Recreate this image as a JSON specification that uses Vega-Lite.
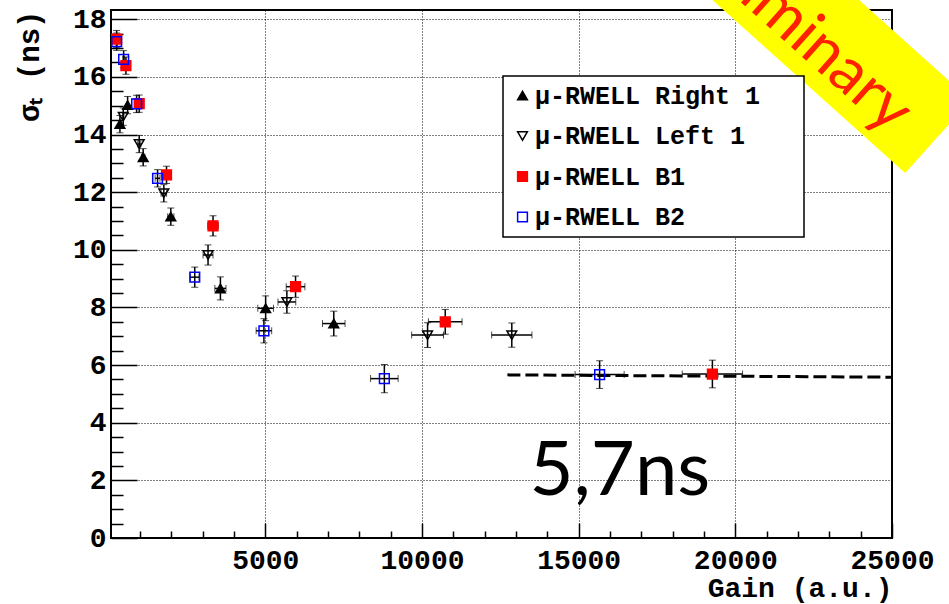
{
  "$schema": "https://vega.github.io/schema/vega-lite/v6.json",
  "width": 781,
  "height": 528,
  "autosize": {"type": "none"},
  "padding": {"left": 111, "top": 10, "right": 57, "bottom": 66},
  "background": "white",
  "config": {
    "view": {"stroke": "black", "strokeWidth": 2},
    "axis": {
      "labelFont": "Liberation Mono",
      "labelFontWeight": "bold",
      "labelFontSize": 28,
      "labelColor": "black",
      "titleFont": "Liberation Mono",
      "titleFontWeight": "bold",
      "titleColor": "black",
      "tickColor": "black",
      "tickWidth": 1.5,
      "domain": false
    },
    "legend": {
      "orient": "none",
      "legendX": 392,
      "legendY": 66,
      "padding": 7,
      "strokeColor": "black",
      "strokeWidth": 1.5,
      "fillColor": "white",
      "cornerRadius": 0,
      "labelFont": "Liberation Mono",
      "labelFontWeight": "bold",
      "labelFontSize": 25,
      "labelColor": "black",
      "labelLimit": 400,
      "labelOffset": 0,
      "rowPadding": 14.5,
      "symbolStrokeWidth": 1.5
    }
  },
  "datasets": {
    "timing": [
      {"series": "μ-RWELL Right 1", "gain": 360, "sigma": 14.36, "gainErr": 18, "sigmaErr": 0.3},
      {"series": "μ-RWELL Right 1", "gain": 605, "sigma": 15.02, "gainErr": 30, "sigmaErr": 0.3},
      {"series": "μ-RWELL Right 1", "gain": 1102, "sigma": 13.21, "gainErr": 55, "sigmaErr": 0.3},
      {"series": "μ-RWELL Right 1", "gain": 1984, "sigma": 11.15, "gainErr": 99, "sigmaErr": 0.3},
      {"series": "μ-RWELL Right 1", "gain": 3567, "sigma": 8.66, "gainErr": 178, "sigmaErr": 0.4},
      {"series": "μ-RWELL Right 1", "gain": 5010, "sigma": 7.97, "gainErr": 250, "sigmaErr": 0.43},
      {"series": "μ-RWELL Right 1", "gain": 7185, "sigma": 7.44, "gainErr": 360, "sigmaErr": 0.43},
      {"series": "μ-RWELL Left 1", "gain": 465, "sigma": 14.62, "gainErr": 23, "sigmaErr": 0.3},
      {"series": "μ-RWELL Left 1", "gain": 975, "sigma": 13.67, "gainErr": 49, "sigmaErr": 0.3},
      {"series": "μ-RWELL Left 1", "gain": 1761, "sigma": 11.96, "gainErr": 88, "sigmaErr": 0.3},
      {"series": "μ-RWELL Left 1", "gain": 3172, "sigma": 9.82, "gainErr": 159, "sigmaErr": 0.35},
      {"series": "μ-RWELL Left 1", "gain": 5688, "sigma": 8.19, "gainErr": 284, "sigmaErr": 0.39},
      {"series": "μ-RWELL Left 1", "gain": 10178, "sigma": 7.04, "gainErr": 509, "sigmaErr": 0.43},
      {"series": "μ-RWELL Left 1", "gain": 12866, "sigma": 7.04, "gainErr": 643, "sigmaErr": 0.42},
      {"series": "μ-RWELL B1", "gain": 255, "sigma": 17.31, "gainErr": 13, "sigmaErr": 0.3},
      {"series": "μ-RWELL B1", "gain": 551, "sigma": 16.39, "gainErr": 28, "sigmaErr": 0.3},
      {"series": "μ-RWELL B1", "gain": 975, "sigma": 15.07, "gainErr": 49, "sigmaErr": 0.3},
      {"series": "μ-RWELL B1", "gain": 1847, "sigma": 12.6, "gainErr": 92, "sigmaErr": 0.3},
      {"series": "μ-RWELL B1", "gain": 3331, "sigma": 10.83, "gainErr": 167, "sigmaErr": 0.35},
      {"series": "μ-RWELL B1", "gain": 5965, "sigma": 8.72, "gainErr": 298, "sigmaErr": 0.37},
      {"series": "μ-RWELL B1", "gain": 10742, "sigma": 7.5, "gainErr": 537, "sigmaErr": 0.43},
      {"series": "μ-RWELL B1", "gain": 19268, "sigma": 5.69, "gainErr": 963, "sigmaErr": 0.48},
      {"series": "μ-RWELL B2", "gain": 255, "sigma": 17.22, "gainErr": 13, "sigmaErr": 0.3},
      {"series": "μ-RWELL B2", "gain": 478, "sigma": 16.61, "gainErr": 24, "sigmaErr": 0.3},
      {"series": "μ-RWELL B2", "gain": 892, "sigma": 15.06, "gainErr": 45, "sigmaErr": 0.3},
      {"series": "μ-RWELL B2", "gain": 1561, "sigma": 12.48, "gainErr": 78, "sigmaErr": 0.3},
      {"series": "μ-RWELL B2", "gain": 2748, "sigma": 9.05, "gainErr": 137, "sigmaErr": 0.35},
      {"series": "μ-RWELL B2", "gain": 4955, "sigma": 7.19, "gainErr": 248, "sigmaErr": 0.42},
      {"series": "μ-RWELL B2", "gain": 8799, "sigma": 5.53, "gainErr": 440, "sigmaErr": 0.49},
      {"series": "μ-RWELL B2", "gain": 15669, "sigma": 5.67, "gainErr": 783, "sigmaErr": 0.48}
    ],
    "fit": [
      {"gain": 12726, "sigma": 5.66},
      {"gain": 25000, "sigma": 5.58}
    ],
    "single": [{}]
  },
  "layer": [
    {
      "description": "major ticks pointing into the frame",
      "data": {"name": "fit"},
      "mark": {"type": "point", "opacity": 0},
      "encoding": {
        "x": {"field": "gain", "type": "quantitative",
          "scale": {"domain": [75, 25000], "nice": false, "zero": false},
          "axis": {"orient": "bottom", "values": [5000, 10000, 15000, 20000, 25000], "labels": false, "grid": false, "ticks": true, "tickSize": -15, "title": null}},
        "y": {"field": "sigma", "type": "quantitative",
          "scale": {"domain": [0, 18.32], "nice": false, "zero": false},
          "axis": {"orient": "left", "values": [0, 2, 4, 6, 8, 10, 12, 14, 16, 18], "labels": false, "grid": false, "ticks": true, "tickSize": -26, "title": null}}
      }
    },
    {
      "description": "constant fit above 12.7k gain, with the minor ticks",
      "data": {"name": "fit"},
      "mark": {"type": "line", "color": "black", "strokeWidth": 3, "strokeDash": [13, 5]},
      "encoding": {
        "x": {"field": "gain", "type": "quantitative",
          "axis": {"orient": "bottom", "values": [1000, 2000, 3000, 4000, 6000, 7000, 8000, 9000, 11000, 12000, 13000, 14000, 16000, 17000, 18000, 19000, 21000, 22000, 23000, 24000], "labels": false, "grid": false, "ticks": true, "tickSize": -7, "title": null}},
        "y": {"field": "sigma", "type": "quantitative",
          "axis": {"orient": "left", "values": [0.5, 1, 1.5, 2.5, 3, 3.5, 4.5, 5, 5.5, 6.5, 7, 7.5, 8.5, 9, 9.5, 10.5, 11, 11.5, 12.5, 13, 13.5, 14.5, 15, 15.5, 16.5, 17, 17.5], "labels": false, "grid": false, "ticks": true, "tickSize": -12, "title": null}}
      }
    },
    {
      "data": {"name": "timing"},
      "mark": {"type": "errorbar", "ticks": {"size": 7, "color": "black"}, "rule": {"color": "black", "strokeWidth": 1.5}},
      "encoding": {
        "x": {"field": "gain", "type": "quantitative", "axis": null},
        "y": {"field": "sigma", "type": "quantitative", "axis": null},
        "yError": {"field": "sigmaErr"}
      }
    },
    {
      "data": {"name": "timing"},
      "mark": {"type": "errorbar", "ticks": {"size": 7, "color": "black"}, "rule": {"color": "black", "strokeWidth": 1.5}},
      "encoding": {
        "y": {"field": "sigma", "type": "quantitative", "axis": null},
        "x": {"field": "gain", "type": "quantitative", "axis": null},
        "xError": {"field": "gainErr"}
      }
    },
    {
      "data": {"name": "timing"},
      "mark": {"type": "point", "opacity": 1, "strokeWidth": 1.5},
      "encoding": {
        "x": {"field": "gain", "type": "quantitative",
          "axis": {"orient": "bottom", "values": [5000, 10000, 15000, 20000, 25000], "format": "d", "ticks": false, "grid": true, "gridColor": "black", "gridWidth": 1, "gridDash": [1, 2], "labelPadding": 8, "labelFlush": false, "labelOverlap": false, "title": "Gain (a.u.)", "titleAnchor": "end", "titleFontSize": 28, "titlePadding": 0}},
        "y": {"field": "sigma", "type": "quantitative",
          "axis": {"orient": "left", "values": [0, 2, 4, 6, 8, 10, 12, 14, 16, 18], "format": "d", "ticks": false, "grid": true, "gridColor": "black", "gridWidth": 1, "gridDash": [1, 2], "labelPadding": 5, "labelFlush": false, "labelOverlap": false, "title": "σₜ (ns)", "titleAnchor": "end", "titleFontSize": 29, "titlePadding": 28}},
        "shape": {"field": "series", "type": "nominal",
          "scale": {"domain": ["μ-RWELL Right 1", "μ-RWELL Left 1", "μ-RWELL B1", "μ-RWELL B2"], "range": ["triangle-up", "triangle-down", "square", "square"]},
          "legend": {"title": null, "labelExpr": "datum.label + '\u2800\u2800'"}},
        "fill": {"field": "series", "type": "nominal",
          "scale": {"domain": ["μ-RWELL Right 1", "μ-RWELL Left 1", "μ-RWELL B1", "μ-RWELL B2"], "range": ["black", "transparent", "#ff0000", "transparent"]},
          "legend": {"title": null, "labelExpr": "datum.label + '\u2800\u2800'"}},
        "stroke": {"field": "series", "type": "nominal",
          "scale": {"domain": ["μ-RWELL Right 1", "μ-RWELL Left 1", "μ-RWELL B1", "μ-RWELL B2"], "range": ["black", "black", "#ff0000", "#0000ff"]},
          "legend": {"title": null, "labelExpr": "datum.label + '\u2800\u2800'"}},
        "size": {"field": "series", "type": "nominal",
          "scale": {"domain": ["μ-RWELL Right 1", "μ-RWELL Left 1", "μ-RWELL B1", "μ-RWELL B2"], "range": [95, 95, 140, 140]},
          "legend": {"title": null, "labelExpr": "datum.label + '\u2800\u2800'"}}
      }
    },
    {
      "description": "fitted plateau value",
      "data": {"name": "single"},
      "mark": {"type": "text", "text": "5,7ns", "font": "Lato", "fontSize": 76, "align": "center", "baseline": "alphabetic", "color": "black"},
      "encoding": {
        "x": {"datum": 16315, "type": "quantitative", "axis": null},
        "y": {"datum": 1.48, "type": "quantitative", "axis": null}
      }
    },
    {
      "description": "diagonal banner",
      "data": {"name": "single"},
      "mark": {"type": "rule", "color": "#ffff00", "strokeWidth": 98, "strokeCap": "butt"},
      "encoding": {
        "x": {"datum": 19341, "type": "quantitative", "axis": null},
        "y": {"datum": 20.88, "type": "quantitative", "axis": null},
        "x2": {"datum": 26465},
        "y2": {"datum": 13.93}
      }
    },
    {
      "data": {"name": "single"},
      "mark": {"type": "text", "text": "Preliminary", "font": "Lato", "fontSize": 63, "angle": 41.8, "align": "right", "baseline": "middle", "color": "#ff2200"},
      "encoding": {
        "x": {"datum": 25328, "type": "quantitative", "axis": null},
        "y": {"datum": 14.47, "type": "quantitative", "axis": null}
      }
    }
  ],
  "resolve": {"axis": {"x": "independent", "y": "independent"}}
}
